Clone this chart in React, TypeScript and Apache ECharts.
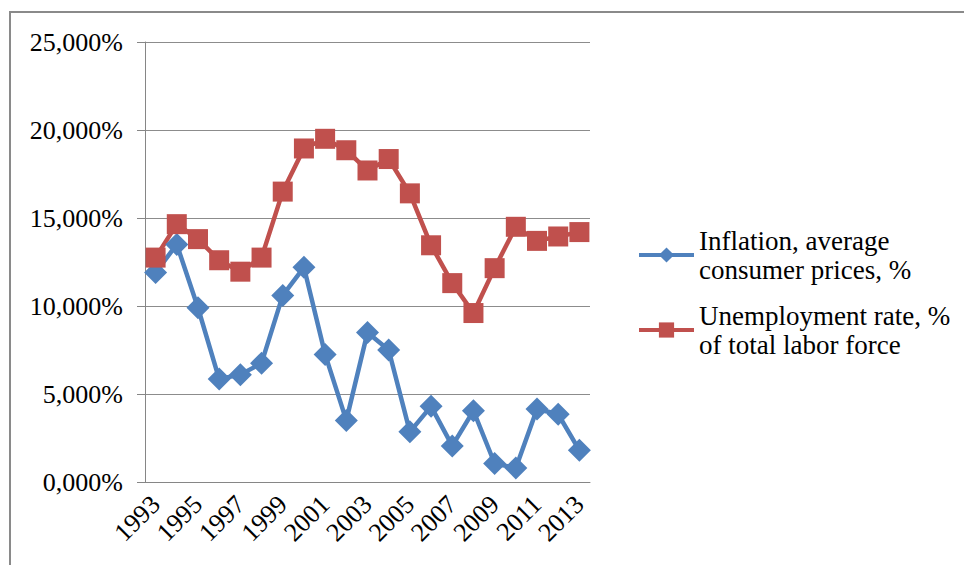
import React, { useEffect, useRef } from "react";
import * as echarts from "echarts";

const years = [
  "1993", "1994", "1995", "1996", "1997", "1998", "1999", "2000", "2001", "2002", "2003",
  "2004", "2005", "2006", "2007", "2008", "2009", "2010", "2011", "2012", "2013",
];

const inflation = [
  11.9, 13.5, 9.9, 5.85, 6.1, 6.75, 10.6, 12.2, 7.25, 3.5, 8.5,
  7.5, 2.85, 4.3, 2.05, 4.05, 1.05, 0.8, 4.15, 3.85, 1.8,
];

const unemployment = [
  12.75, 14.65, 13.8, 12.6, 11.95, 12.75, 16.5, 18.95, 19.5, 18.85, 17.7,
  18.35, 16.4, 13.45, 11.3, 9.6, 12.15, 14.5, 13.7, 13.95, 14.2,
];

const seriesNames = [
  "Inflation, average\nconsumer prices, %",
  "Unemployment rate, %\nof total labor force",
];

const FONT = "'Liberation Serif', 'Times New Roman', serif";

export default function App() {
  const ref = useRef<HTMLDivElement>(null);

  useEffect(() => {
    if (!ref.current) return;
    const chart = echarts.init(ref.current, undefined, { renderer: "svg" });
    chart.setOption({
      animation: false,
      backgroundColor: "#ffffff",
      textStyle: { fontFamily: FONT, color: "#000" },
      graphic: [
        {
          type: "rect",
          shape: { x: 10, y: 12, width: 1000, height: 700 },
          style: { fill: "none", stroke: "#8a8a8a", lineWidth: 2 },
          silent: true,
        },
      ],
      grid: { left: 145, right: 374, top: 42, bottom: 83, containLabel: false },
      legend: {
        orient: "vertical",
        left: 637,
        top: 226,
        padding: 0,
        itemWidth: 55,
        itemHeight: 19,
        itemGap: 17,
        lineStyle: { width: 4 },
        textStyle: { fontFamily: FONT, fontSize: 27, color: "#000", lineHeight: 29 },
        data: seriesNames,
      },
      xAxis: {
        type: "category",
        data: years,
        boundaryGap: true,
        axisLine: { lineStyle: { color: "#868686", width: 1 } },
        axisTick: { interval: 0, length: 8, lineStyle: { color: "#868686" } },
        axisLabel: {
          interval: 1,
          rotate: 45,
          margin: 18,
          fontFamily: FONT,
          fontSize: 26,
          color: "#000",
        },
        splitLine: { show: false },
      },
      yAxis: {
        type: "value",
        min: 0,
        max: 25,
        interval: 5,
        axisLine: { show: true, lineStyle: { color: "#868686", width: 1 } },
        axisTick: { show: true, length: 8, lineStyle: { color: "#868686" } },
        axisLabel: {
          margin: 22,
          fontFamily: FONT,
          fontSize: 26,
          color: "#000",
          formatter: (v: number) => v.toFixed(3).replace(".", ",") + "%",
        },
        splitLine: { show: true, lineStyle: { color: "#8c8c8c", width: 1 } },
      },
      series: [
        {
          name: seriesNames[0],
          type: "line",
          data: inflation,
          symbol: "diamond",
          symbolSize: 23,
          showAllSymbol: true,
          lineStyle: { color: "#4f81bd", width: 4.5 },
          itemStyle: { color: "#4f81bd" },
        },
        {
          name: seriesNames[1],
          type: "line",
          data: unemployment,
          symbol: "rect",
          symbolSize: 20,
          showAllSymbol: true,
          lineStyle: { color: "#c0504d", width: 4.5 },
          itemStyle: { color: "#c0504d" },
        },
      ],
    });
    return () => chart.dispose();
  }, []);

  return (
    <div
      ref={ref}
      style={{ position: "absolute", left: 0, top: 0, width: 964, height: 565 }}
    />
  );
}
